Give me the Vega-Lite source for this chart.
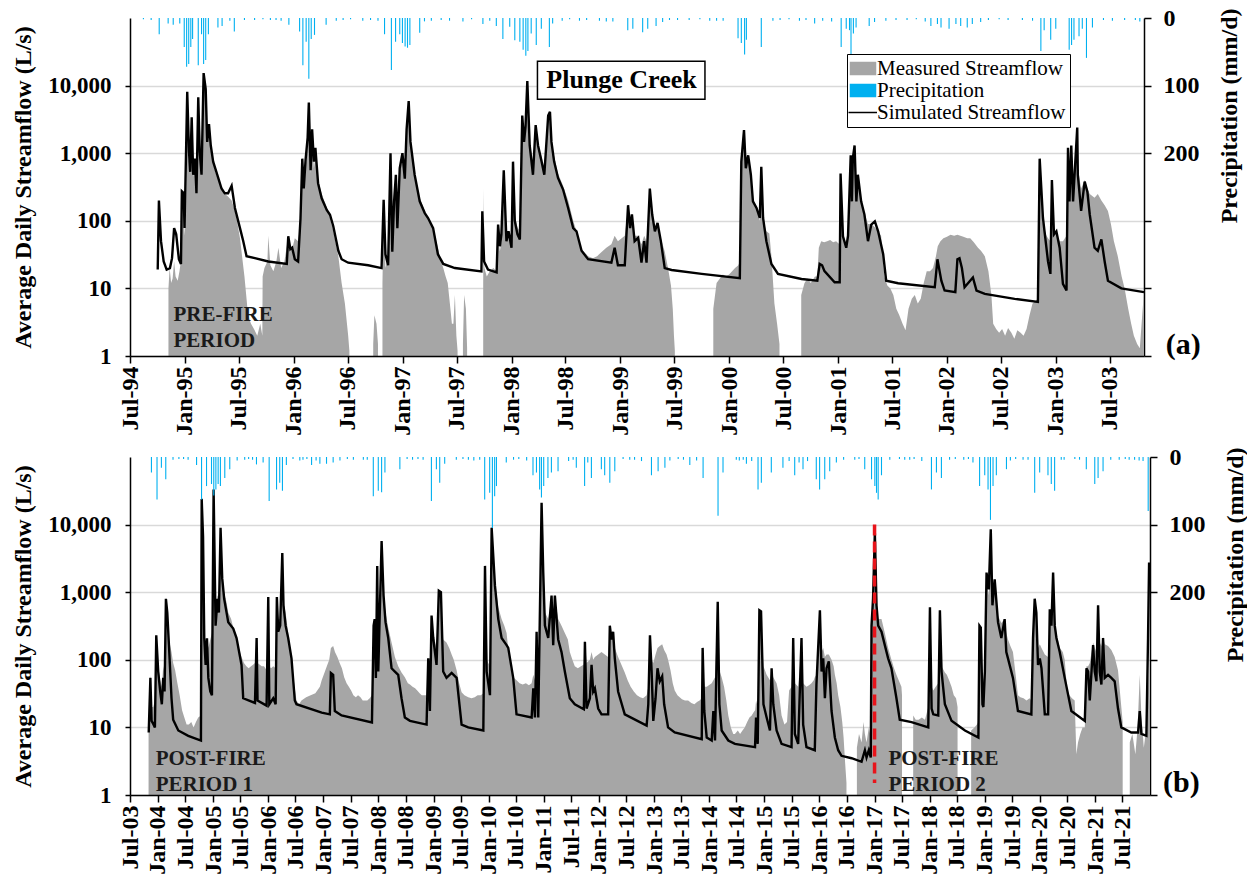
{
  "$schema": "https://vega.github.io/schema/vega-lite/v6.json",
  "background": "white",
  "padding": {"left": 11, "top": 6, "right": 0, "bottom": 0},
  "spacing": 9,
  "config": {
    "font": "Liberation Serif",
    "view": {"stroke": null},
    "axis": {
      "labelFont": "Liberation Serif", "titleFont": "Liberation Serif",
      "labelFontWeight": "bold", "titleFontWeight": "bold",
      "labelColor": "#000", "titleColor": "#000",
      "domainColor": "#000", "tickColor": "#000", "domainWidth": 1.5, "tickWidth": 1.5,
      "grid": false, "labelFlush": false, "labelOverlap": false
    }
  },
  "resolve": {"scale": {"color": "independent"}, "legend": {"color": "independent"}},
  "vconcat": [
    {
      "width": 1014, "height": 338,
      "resolve": {"scale": {"y": "independent"}},
      "layer": [
        {
          "layer": [
            {
              "data": {"values": "d,v\n1994-11-07,10\n1994-11-11,20\n1994-11-16,12\n1994-11-21,14\n1994-11-26,25\n1994-12-01,15\n1994-12-08,13\n1994-12-14,18\n1994-12-21,30\n1994-12-23,150\n1994-12-28,200\n1994-12-31,60\n1995-01-05,120\n1995-01-09,7000\n1995-01-13,900\n1995-01-19,500\n1995-01-24,2500\n1995-01-29,450\n1995-02-04,700\n1995-02-09,300\n1995-02-15,5000\n1995-02-20,900\n1995-02-26,500\n1995-03-05,12000\n1995-03-12,7000\n1995-03-17,1500\n1995-03-23,2000\n1995-03-29,1100\n1995-04-06,700\n1995-04-15,500\n1995-04-25,400\n1995-05-05,300\n1995-05-15,250\n1995-05-25,230\n1995-06-07,200\n1995-06-18,140\n1995-06-25,100\n1995-07-05,55\n1995-07-12,30\n1995-07-20,15\n1995-07-27,7\n1995-08-01,4\n1995-08-11,3\n1995-08-21,2.5\n1995-09-01,2\n1995-09-11,3\n1995-09-18,2\n1995-09-19,15\n1995-09-25,20\n1995-10-05,25\n1995-10-08,60\n1995-10-15,22\n1995-10-25,18\n1995-11-04,25\n1995-11-11,40\n1995-11-20,20\n1995-12-01,25\n1995-12-10,45\n1995-12-14,55\n1995-12-21,35\n1995-12-28,40\n1996-01-05,55\n1996-01-16,50\n1996-01-24,90\n1996-01-30,600\n1996-02-04,300\n1996-02-10,600\n1996-02-17,1300\n1996-02-21,4000\n1996-02-27,500\n1996-03-03,1800\n1996-03-09,600\n1996-03-14,900\n1996-03-23,400\n1996-04-04,250\n1996-04-21,160\n1996-05-02,110\n1996-05-13,70\n1996-05-30,30\n1996-06-10,12\n1996-06-21,6\n1996-07-02,2\n1996-07-06,1.2\n1996-07-07,\n1996-09-24,1.5\n1996-09-28,4\n1996-10-05,3\n1996-10-10,1.5\n1996-10-11,\n1996-10-25,12\n1996-10-29,150\n1996-11-04,20\n1996-11-13,30\n1996-11-21,700\n1996-11-27,40\n1996-12-03,150\n1996-12-09,400\n1996-12-14,80\n1996-12-22,500\n1996-12-31,900\n1997-01-08,400\n1997-01-14,2000\n1997-01-21,5000\n1997-01-27,1400\n1997-02-10,500\n1997-02-27,220\n1997-03-16,140\n1997-03-27,110\n1997-04-13,80\n1997-04-29,40\n1997-05-10,25\n1997-05-17,20\n1997-05-25,15\n1997-06-01,12\n1997-06-10,5\n1997-06-15,3\n1997-06-20,3\n1997-06-25,8\n1997-06-30,2\n1997-07-04,1.2\n1997-07-05,\n1997-07-22,1.5\n1997-07-26,8\n1997-08-01,5\n1997-08-05,1.3\n1997-08-06,\n1997-09-28,12\n1997-09-30,300\n1997-10-02,20\n1997-10-10,15\n1997-10-20,18\n1997-11-01,20\n1997-11-12,18\n1997-11-17,60\n1997-11-23,35\n1997-11-28,50\n1997-12-06,450\n1997-12-15,60\n1997-12-22,60\n1998-01-01,50\n1998-01-06,600\n1998-01-12,120\n1998-01-21,80\n1998-01-29,70\n1998-02-06,3000\n1998-02-12,1500\n1998-02-17,2000\n1998-02-23,9000\n1998-03-03,1500\n1998-03-14,700\n1998-03-23,2200\n1998-03-31,1300\n1998-04-12,900\n1998-04-21,600\n1998-05-04,3000\n1998-05-10,3500\n1998-05-15,1500\n1998-05-24,900\n1998-06-06,500\n1998-06-23,330\n1998-07-10,200\n1998-07-27,100\n1998-08-07,70\n1998-08-24,38\n1998-09-15,30\n1998-10-01,28\n1998-10-15,30\n1998-11-01,35\n1998-11-15,40\n1998-12-02,45\n1998-12-13,60\n1998-12-24,50\n1999-01-16,60\n1999-01-27,150\n1999-02-03,80\n1999-02-09,110\n1999-02-18,60\n1999-03-02,60\n1999-03-13,45\n1999-03-22,60\n1999-03-30,50\n1999-04-10,250\n1999-04-18,130\n1999-04-27,80\n1999-05-06,90\n1999-05-17,55\n1999-05-30,35\n1999-06-10,20\n1999-06-20,11\n1999-06-26,5\n1999-06-30,2\n1999-07-03,1.2\n1999-07-04,\n1999-11-09,5\n1999-11-20,12\n1999-12-01,14\n1999-12-11,16\n1999-12-21,15\n2000-01-01,16\n2000-01-11,18\n2000-01-21,20\n2000-02-01,22\n2000-02-06,25\n2000-02-11,600\n2000-02-20,1800\n2000-02-26,600\n2000-03-05,800\n2000-03-14,450\n2000-03-21,200\n2000-04-02,150\n2000-04-13,100\n2000-04-18,400\n2000-04-24,100\n2000-05-05,70\n2000-05-15,65\n2000-05-22,30\n2000-06-01,6\n2000-06-10,3\n2000-06-18,1.5\n2000-06-19,\n2000-08-30,8\n2000-09-10,12\n2000-09-20,14\n2000-10-01,12\n2000-10-15,15\n2000-10-23,15\n2000-10-28,40\n2000-11-05,50\n2000-11-15,48\n2000-11-25,50\n2000-12-05,52\n2000-12-15,48\n2000-12-25,50\n2001-01-05,45\n2001-01-09,400\n2001-01-17,55\n2001-01-28,40\n2001-02-03,60\n2001-02-12,800\n2001-02-16,200\n2001-02-19,700\n2001-02-25,1100\n2001-03-03,200\n2001-03-08,400\n2001-03-19,200\n2001-03-30,130\n2001-04-11,90\n2001-04-22,90\n2001-05-04,80\n2001-05-15,70\n2001-05-25,60\n2001-06-05,15\n2001-06-15,11\n2001-06-25,10\n2001-07-05,8\n2001-07-15,5\n2001-07-25,4\n2001-08-05,3\n2001-08-15,2.4\n2001-08-25,5\n2001-09-05,7\n2001-09-15,8\n2001-09-25,6\n2001-10-05,7\n2001-10-15,12\n2001-10-25,18\n2001-11-05,18\n2001-11-15,20\n2001-11-25,30\n2001-12-01,42\n2001-12-10,50\n2001-12-20,55\n2002-01-01,58\n2002-01-13,62\n2002-01-25,60\n2002-02-05,62\n2002-02-15,60\n2002-02-25,58\n2002-03-10,55\n2002-03-20,55\n2002-04-01,48\n2002-04-15,40\n2002-04-25,36\n2002-05-08,30\n2002-05-20,18\n2002-05-30,8\n2002-06-05,3\n2002-06-15,2.5\n2002-06-25,2.2\n2002-07-05,2.5\n2002-07-15,2\n2002-07-25,2.6\n2002-08-05,2.2\n2002-08-15,1.8\n2002-08-25,2.4\n2002-09-05,2.2\n2002-09-15,2\n2002-09-25,2.5\n2002-10-05,4\n2002-10-15,6\n2002-10-25,6.5\n2002-11-02,7\n2002-11-08,600\n2002-11-19,90\n2002-12-01,60\n2002-12-06,55\n2002-12-14,50\n2002-12-19,350\n2002-12-26,60\n2003-01-03,65\n2003-01-14,50\n2003-01-25,50\n2003-02-06,60\n2003-02-11,1000\n2003-02-16,300\n2003-02-22,1100\n2003-02-28,400\n2003-03-14,2000\n2003-03-16,600\n2003-03-27,300\n2003-04-08,400\n2003-04-17,300\n2003-04-25,250\n2003-05-11,220\n2003-05-22,250\n2003-06-03,200\n2003-06-14,170\n2003-06-25,140\n2003-07-05,90\n2003-07-15,50\n2003-07-28,30\n2003-08-10,15\n2003-08-20,10\n2003-09-01,5\n2003-09-11,3\n2003-09-20,2\n2003-10-01,1.5\n2003-10-10,1.3\n2003-10-18,4\n2003-10-24,9", "format": {"type": "csv", "parse": {"d": "date", "v": "number"}}},
              "mark": {"type": "area", "invalid": "break-paths-filter-domains", "clip": true},
              "encoding": {
                "x": {
                  "field": "d", "type": "temporal",
                  "scale": {"type": "utc", "domain": [{"year": 1994, "month": 7, "date": 1, "utc": true}, {"year": 2003, "month": 10, "date": 24, "utc": true}]},
                  "axis": {"title": null, "format": "%b-%y", "tickCount": {"interval": "month", "step": 6}, "labelAngle": 270, "labelAlign": "right", "labelBaseline": "middle", "labelFontSize": 24, "labelPadding": 3, "tickSize": 7, "zindex": 1}
                },
                "y": {
                  "field": "v", "type": "quantitative",
                  "scale": {"type": "log", "domain": [1, 88000]},
                  "axis": {"title": "Average Daily Streamflow (L/s)", "titleFont": "Liberation Serif", "values": [1, 10, 100, 1000, 10000], "format": ",", "grid": true, "gridColor": "#d9d9d9", "gridWidth": 1.3, "labelFontSize": 23, "labelPadding": 14, "tickSize": 5, "titleFontSize": 24, "titlePadding": 12}
                },
                "y2": {"datum": 1},
                "color": {
                  "datum": "Measured Streamflow", "type": "nominal",
                  "scale": {"domain": ["Measured Streamflow", "Precipitation", "Simulated Streamflow"], "range": ["#a6a6a6", "#00b0f0", "#000000"]},
                  "legend": {
                    "title": null, "orient": "none", "legendX": 717, "legendY": 36,
                    "strokeColor": "#000", "fillColor": "#fff", "padding": 4, "rowPadding": 0,
                    "labelFont": "Liberation Serif", "labelFontSize": 21, "labelFontWeight": "normal", "labelColor": "#000", "labelOffset": 5, "labelLimit": 400,
                    "labelExpr": "datum.label + '  '",
                    "symbolSize": 100,
                    "encode": {
                      "symbols": {
                        "update": {
                          "shape": {"signal": "datum.value === 'Simulated Streamflow' ? 'M-2.6,0H3.1' : 'M-2.2,-1.2H2.8V1.2H-2.2Z'"},
                          "fill": {"signal": "datum.value === 'Simulated Streamflow' ? 'transparent' : (datum.value === 'Precipitation' ? '#00b0f0' : '#a6a6a6')"},
                          "stroke": {"signal": "datum.value === 'Simulated Streamflow' ? '#000000' : 'transparent'"},
                          "strokeWidth": {"value": 1.5},
                          "opacity": {"value": 1}
                        }
                      }
                    }
                  }
                }
              }
            },
            {
              "data": {"values": "d,v\n1994-10-02,19\n1994-10-06,199\n1994-10-13,50\n1994-10-22,25\n1994-11-01,19\n1994-11-12,20\n1994-11-19,28\n1994-11-26,78\n1994-12-03,63\n1994-12-12,27\n1994-12-19,23\n1994-12-22,273\n1994-12-28,257\n1994-12-31,78\n1995-01-09,8100\n1995-01-15,1040\n1995-01-19,530\n1995-01-24,3400\n1995-01-29,480\n1995-02-04,830\n1995-02-09,255\n1995-02-15,6700\n1995-02-20,1040\n1995-02-26,480\n1995-03-05,15300\n1995-03-12,8900\n1995-03-17,1470\n1995-03-23,2700\n1995-03-29,1300\n1995-04-06,750\n1995-04-23,430\n1995-05-04,300\n1995-05-15,255\n1995-05-26,255\n1995-06-07,330\n1995-06-18,155\n1995-07-05,78\n1995-07-16,50\n1995-07-27,30\n1995-08-24,28\n1995-10-08,25\n1995-12-09,23\n1995-12-14,59\n1995-12-21,38\n1995-12-27,40\n1996-01-05,27\n1996-01-16,25\n1996-01-24,108\n1996-01-30,830\n1996-02-04,300\n1996-02-10,790\n1996-02-17,1700\n1996-02-21,5600\n1996-02-27,560\n1996-03-03,2250\n1996-03-09,750\n1996-03-14,1200\n1996-03-23,360\n1996-04-04,215\n1996-04-21,145\n1996-05-02,123\n1996-05-13,83\n1996-05-30,36\n1996-06-10,27\n1996-07-02,24\n1996-09-07,22\n1996-10-22,20\n1996-10-29,205\n1996-11-04,32\n1996-11-13,22\n1996-11-21,1000\n1996-11-27,35\n1996-12-03,194\n1996-12-09,480\n1996-12-14,78\n1996-12-22,600\n1996-12-31,1000\n1997-01-08,420\n1997-01-14,2250\n1997-01-21,5900\n1997-01-27,1470\n1997-02-10,480\n1997-02-27,194\n1997-03-16,130\n1997-03-27,110\n1997-04-13,78\n1997-04-29,32\n1997-05-17,23\n1997-06-25,20\n1997-09-22,17.8\n1997-09-25,138\n1997-10-01,25\n1997-10-14,19\n1997-11-12,17.3\n1997-11-17,88\n1997-11-23,42\n1997-11-28,63\n1997-12-06,560\n1997-12-15,50\n1997-12-22,70\n1998-01-01,40\n1998-01-06,750\n1998-01-12,100\n1998-01-21,63\n1998-01-29,53\n1998-02-06,3600\n1998-02-12,1470\n1998-02-17,2500\n1998-02-23,11700\n1998-03-03,1300\n1998-03-14,480\n1998-03-23,2600\n1998-03-31,1300\n1998-04-12,750\n1998-04-21,480\n1998-05-04,3600\n1998-05-10,4100\n1998-05-15,1470\n1998-05-24,750\n1998-06-06,430\n1998-06-23,290\n1998-07-10,155\n1998-07-27,78\n1998-08-07,70\n1998-08-24,36\n1998-09-15,27\n1998-12-02,24\n1998-12-13,40\n1998-12-24,22\n1999-01-16,22\n1999-01-27,170\n1999-02-03,78\n1999-02-09,124\n1999-02-18,50\n1999-03-02,56\n1999-03-13,24\n1999-03-22,50\n1999-03-30,24\n1999-04-10,300\n1999-04-18,124\n1999-04-27,70\n1999-05-06,93\n1999-05-17,50\n1999-05-30,20\n1999-06-22,18.7\n1999-10-01,16.4\n2000-02-06,14.2\n2000-02-11,750\n2000-02-20,2200\n2000-02-26,600\n2000-03-05,930\n2000-03-14,480\n2000-03-21,194\n2000-04-02,155\n2000-04-13,110\n2000-04-18,630\n2000-04-24,110\n2000-05-05,50\n2000-05-22,23\n2000-06-13,16.4\n2000-08-31,13.8\n2000-10-23,13\n2000-10-31,23\n2000-11-08,22\n2000-11-16,18\n2000-12-20,12.3\n2001-01-06,12.3\n2001-01-09,500\n2001-01-17,59\n2001-01-28,40\n2001-02-03,60\n2001-02-12,930\n2001-02-16,194\n2001-02-19,830\n2001-02-25,1300\n2001-03-03,194\n2001-03-08,480\n2001-03-19,194\n2001-03-30,124\n2001-04-11,50\n2001-04-22,88\n2001-05-04,98\n2001-05-15,70\n2001-06-01,32\n2001-06-11,13\n2001-07-21,11.9\n2001-11-21,10.4\n2001-11-30,27\n2001-12-13,13\n2001-12-24,9.3\n2002-01-29,8.8\n2002-02-05,27\n2002-02-12,28\n2002-02-20,20\n2002-03-01,10.4\n2002-03-29,14.5\n2002-04-10,9.3\n2002-05-08,8.3\n2002-08-16,7\n2002-11-02,6.3\n2002-11-08,830\n2002-11-19,110\n2002-12-06,25\n2002-12-14,16.4\n2002-12-19,400\n2002-12-26,63\n2003-01-03,70\n2003-01-14,40\n2003-01-25,11.7\n2003-02-06,9.3\n2003-02-11,1200\n2003-02-16,194\n2003-02-22,1300\n2003-02-28,194\n2003-03-14,2400\n2003-03-16,480\n2003-03-27,140\n2003-04-08,380\n2003-04-17,270\n2003-04-25,124\n2003-05-11,40\n2003-05-22,36\n2003-06-03,53\n2003-06-14,25\n2003-06-25,13\n2003-08-09,10\n2003-10-24,8.8", "format": {"type": "csv", "parse": {"d": "date", "v": "number"}}},
              "mark": {"type": "line", "strokeWidth": 2.4, "clip": true},
              "encoding": {
                "x": {"field": "d", "type": "temporal"},
                "y": {"field": "v", "type": "quantitative"},
                "color": {"datum": "Simulated Streamflow", "type": "nominal"}
              }
            },
            {
              "data": {"values": [{}]},
              "mark": {"type": "rect", "fill": "#ffffff", "stroke": "#000000", "strokeWidth": 1.5},
              "encoding": {
                "x": {"datum": {"year": 1998, "month": 3, "date": 29, "utc": true}, "type": "temporal"},
                "x2": {"datum": {"year": 1999, "month": 10, "date": 12, "utc": true}},
                "y": {"datum": 22850, "type": "quantitative"},
                "y2": {"datum": 6260}
              }
            },
            {
              "data": {"values": [{}]},
              "mark": {"type": "text", "text": "Plunge Creek", "font": "Liberation Serif", "fontSize": 26, "fontWeight": "bold", "color": "#000", "align": "center", "baseline": "middle"},
              "encoding": {
                "x": {"datum": {"year": 1999, "month": 1, "date": 5, "utc": true}, "type": "temporal"},
                "y": {"datum": 11960, "type": "quantitative"}
              }
            },
            {
              "data": {"values": [{}]},
              "mark": {"type": "text", "text": ["PRE-FIRE", "PERIOD"], "font": "Liberation Serif", "fontSize": 21, "fontWeight": "bold", "color": "#1a1a1a", "align": "left", "baseline": "middle", "lineHeight": 26},
              "encoding": {
                "x": {"datum": {"year": 1994, "month": 11, "date": 24, "utc": true}, "type": "temporal"},
                "y": {"datum": 3.98, "type": "quantitative"}
              }
            },
            {
              "data": {"values": [{}]},
              "mark": {"type": "text", "text": "(a)", "font": "Liberation Serif", "fontSize": 30, "fontWeight": "bold", "color": "#000", "align": "center", "baseline": "middle"},
              "encoding": {
                "x": {"datum": {"year": 2004, "month": 3, "date": 4, "utc": true}, "type": "temporal"},
                "y": {"datum": 1.45, "type": "quantitative"}
              }
            }
          ]
        },
        {
          "data": {"values": "d,p\n1994-10-07,24\n1994-11-06,8\n1994-11-23,10\n1994-12-15,8\n1994-12-30,43\n1995-01-07,72\n1995-01-14,68\n1995-01-21,43\n1995-01-27,31\n1995-02-15,70\n1995-02-26,24\n1995-03-05,68\n1995-03-12,62\n1995-03-21,24\n1995-04-22,14\n1995-05-06,12\n1995-06-16,20\n1995-07-20,3\n1995-08-23,3\n1995-11-03,3\n1995-12-16,10\n1996-01-21,20\n1996-02-01,70\n1996-02-12,35\n1996-02-21,90\n1996-02-29,31\n1996-03-11,25\n1996-04-19,10\n1996-05-23,4\n1996-08-20,4\n1996-11-01,24\n1996-11-24,77\n1996-12-08,35\n1996-12-22,24\n1996-12-31,37\n1997-01-09,42\n1997-01-17,44\n1997-01-25,40\n1997-02-27,22\n1997-04-07,4\n1997-06-07,4\n1997-07-22,5\n1997-09-27,9\n1997-11-11,12\n1997-12-03,31\n1997-12-26,13\n1998-01-12,33\n1998-01-29,35\n1998-02-09,47\n1998-02-18,56\n1998-02-25,49\n1998-03-08,23\n1998-03-25,40\n1998-04-11,16\n1998-05-08,43\n1998-05-19,8\n1998-08-17,4\n1998-10-23,4\n1998-12-07,5\n1999-01-26,18\n1999-02-12,16\n1999-03-17,21\n1999-04-03,16\n1999-05-01,12\n1999-05-23,6\n1999-07-12,3\n1999-10-28,4\n1999-12-12,4\n2000-01-31,30\n2000-02-11,37\n2000-02-22,54\n2000-02-28,32\n2000-04-18,43\n2000-05-27,4\n2000-08-24,4\n2000-10-14,8\n2000-11-10,4\n2001-01-11,43\n2001-01-28,16\n2001-02-08,18\n2001-02-13,54\n2001-02-21,23\n2001-03-02,14\n2001-04-15,12\n2001-05-03,6\n2001-07-14,3\n2001-11-08,12\n2001-11-30,9\n2001-12-12,14\n2002-01-08,16\n2002-01-31,9\n2002-02-16,12\n2002-03-10,14\n2002-03-27,9\n2002-04-24,6\n2002-09-11,3\n2002-11-12,49\n2002-11-23,18\n2002-12-15,32\n2003-01-01,16\n2003-02-15,47\n2003-02-23,40\n2003-03-03,32\n2003-03-20,27\n2003-03-31,16\n2003-04-14,59\n2003-05-04,14\n2003-06-10,3\n2003-08-20,3\n2003-09-25,3\n1994-08-15,2\n1994-09-10,3\n1995-06-01,4\n1995-09-20,2\n1995-10-15,3\n1995-11-20,4\n1996-06-15,3\n1996-07-10,2\n1996-09-15,3\n1996-10-10,4\n1997-03-15,5\n1997-05-10,3\n1997-08-20,2\n1997-10-20,4\n1998-06-20,4\n1998-07-15,2\n1998-09-10,3\n1998-11-15,5\n1999-06-15,3\n1999-08-20,3\n1999-09-25,2\n1999-11-20,4\n2000-06-20,3\n2000-07-20,2\n2000-09-15,3\n2000-12-10,5\n2001-06-10,4\n2001-08-20,3\n2001-09-20,2\n2001-10-20,5\n2002-05-20,3\n2002-06-25,2\n2002-07-25,3\n2002-10-15,4\n2003-07-10,4\n2003-10-10,5", "format": {"type": "csv", "parse": {"d": "date", "p": "number"}}},
          "mark": {"type": "rule", "strokeWidth": 1.1},
          "encoding": {
            "x": {"field": "d", "type": "temporal"},
            "y": {
              "field": "p", "type": "quantitative",
              "scale": {"domain": [0, 500], "reverse": true},
              "axis": {"orient": "right", "title": "Precipitation (mm/d)", "titleFont": "Liberation Serif", "values": [0, 100, 200, 300, 400, 500], "labelExpr": "datum.value <= 200 ? datum.label : ''", "labelFontSize": 24, "labelPadding": 12, "tickSize": 7, "titleFontSize": 24, "titleAngle": 270, "titleAlign": "right", "titleBaseline": "middle", "titleX": 85, "titleY": -10}
            },
            "y2": {"datum": 0},
            "color": {"datum": "Precipitation", "type": "nominal"}
          }
        }
      ]
    },
    {
      "width": 1020, "height": 338,
      "resolve": {"scale": {"y": "independent"}},
      "layer": [
        {
          "layer": [
            {
              "data": {"values": "d,v\n2003-11-01,9\n2003-11-13,60\n2003-11-21,20\n2003-12-02,20\n2003-12-13,25\n2003-12-22,200\n2004-01-04,80\n2004-01-17,50\n2004-01-28,40\n2004-02-06,80\n2004-02-15,60\n2004-02-24,700\n2004-03-04,500\n2004-03-15,200\n2004-04-01,130\n2004-04-12,90\n2004-04-25,70\n2004-05-10,45\n2004-05-25,30\n2004-06-10,18\n2004-06-25,14\n2004-07-10,11\n2004-07-25,11\n2004-08-10,12\n2004-08-25,10\n2004-09-10,12\n2004-09-25,14\n2004-10-13,15\n2004-10-18,20000\n2004-10-27,5000\n2004-11-04,300\n2004-11-13,150\n2004-11-22,200\n2004-12-01,150\n2004-12-14,200\n2004-12-25,250\n2005-01-05,25000\n2005-01-18,600\n2005-01-31,900\n2005-02-09,800\n2005-02-20,8000\n2005-03-03,1800\n2005-03-16,1000\n2005-04-01,700\n2005-04-12,500\n2005-05-01,400\n2005-05-15,300\n2005-06-06,220\n2005-06-20,150\n2005-07-09,110\n2005-07-25,90\n2005-08-10,80\n2005-08-25,75\n2005-09-10,80\n2005-09-25,85\n2005-10-06,90\n2005-10-17,200\n2005-10-23,90\n2005-11-05,85\n2005-11-20,80\n2005-12-05,80\n2005-12-22,70\n2006-01-02,800\n2006-01-09,80\n2006-01-20,75\n2006-02-04,80\n2006-02-20,75\n2006-02-28,800\n2006-03-09,400\n2006-03-22,400\n2006-04-05,3000\n2006-04-13,700\n2006-04-27,500\n2006-05-14,250\n2006-06-05,110\n2006-06-20,50\n2006-07-08,25\n2006-07-25,22\n2006-08-10,25\n2006-09-10,28\n2006-10-10,30\n2006-11-10,32\n2006-12-10,40\n2006-12-22,50\n2007-01-10,65\n2007-01-25,80\n2007-02-10,100\n2007-02-21,150\n2007-03-08,160\n2007-03-20,130\n2007-04-05,110\n2007-04-20,90\n2007-05-05,75\n2007-05-20,55\n2007-06-05,45\n2007-06-20,40\n2007-07-05,35\n2007-07-20,30\n2007-08-05,28\n2007-08-20,30\n2007-09-05,28\n2007-09-20,25\n2007-10-05,25\n2007-10-20,25\n2007-11-05,27\n2007-11-20,30\n2007-12-01,250\n2007-12-08,350\n2007-12-16,80\n2007-12-25,2000\n2008-01-01,100\n2008-01-23,4500\n2008-02-05,1000\n2008-02-18,500\n2008-03-07,300\n2008-03-29,180\n2008-04-20,110\n2008-05-12,80\n2008-06-03,65\n2008-06-25,55\n2008-07-15,45\n2008-07-29,43\n2008-08-15,40\n2008-09-01,38\n2008-09-15,35\n2008-10-01,32\n2008-10-15,30\n2008-11-01,30\n2008-11-16,30\n2008-11-27,90\n2008-12-08,40\n2008-12-19,400\n2008-12-30,250\n2009-01-21,150\n2009-02-05,900\n2009-02-19,800\n2009-03-06,200\n2009-03-28,180\n2009-04-15,150\n2009-05-01,120\n2009-05-15,100\n2009-06-03,70\n2009-06-20,45\n2009-07-06,33\n2009-07-25,30\n2009-08-19,28\n2009-09-10,27\n2009-10-01,28\n2009-10-20,30\n2009-11-10,30\n2009-11-27,32\n2009-12-08,2000\n2009-12-19,100\n2010-01-10,80\n2010-01-21,8000\n2010-02-01,3000\n2010-02-12,1500\n2010-03-06,600\n2010-03-28,400\n2010-04-15,320\n2010-04-30,250\n2010-05-15,120\n2010-05-30,70\n2010-06-13,55\n2010-07-05,50\n2010-07-25,45\n2010-08-15,43\n2010-09-05,45\n2010-09-25,42\n2010-10-13,45\n2010-10-24,60\n2010-11-04,50\n2010-11-15,250\n2010-11-26,60\n2010-12-18,15000\n2010-12-29,2000\n2011-01-09,500\n2011-01-31,400\n2011-02-22,900\n2011-03-05,350\n2011-03-16,800\n2011-04-07,400\n2011-04-29,320\n2011-05-21,250\n2011-06-10,200\n2011-06-23,130\n2011-07-10,100\n2011-07-26,80\n2011-08-15,75\n2011-09-05,80\n2011-09-24,85\n2011-10-01,200\n2011-10-12,90\n2011-11-03,100\n2011-11-14,130\n2011-11-25,100\n2011-12-06,110\n2011-12-28,120\n2012-01-19,130\n2012-02-10,120\n2012-03-03,110\n2012-03-14,300\n2012-03-25,200\n2012-04-05,250\n2012-04-16,150\n2012-05-08,110\n2012-05-25,90\n2012-06-21,65\n2012-07-10,50\n2012-07-30,40\n2012-08-20,34\n2012-09-10,30\n2012-10-01,28\n2012-10-20,27\n2012-11-13,30\n2012-11-24,40\n2012-12-05,200\n2012-12-16,100\n2012-12-27,90\n2013-01-11,120\n2013-01-24,150\n2013-02-08,160\n2013-02-24,170\n2013-03-09,140\n2013-03-25,120\n2013-04-04,100\n2013-04-20,70\n2013-05-05,45\n2013-05-18,35\n2013-06-05,30\n2013-06-20,28\n2013-07-05,26\n2013-07-25,25\n2013-08-15,25\n2013-09-05,23\n2013-09-25,22\n2013-10-15,24\n2013-10-30,25\n2013-11-13,27\n2013-11-19,140\n2013-11-30,40\n2013-12-16,40\n2014-01-18,45\n2014-01-29,50\n2014-02-09,55\n2014-02-27,600\n2014-03-10,70\n2014-03-25,55\n2014-04-10,40\n2014-04-25,25\n2014-05-08,15\n2014-05-25,10\n2014-06-10,8\n2014-06-21,8\n2014-07-10,9\n2014-07-25,8\n2014-08-10,9\n2014-08-25,10\n2014-09-10,12\n2014-09-25,14\n2014-10-10,15\n2014-10-25,17\n2014-11-02,18\n2014-11-08,25\n2014-11-19,20\n2014-11-30,500\n2014-12-11,450\n2014-12-27,80\n2015-01-17,60\n2015-02-08,50\n2015-02-19,70\n2015-03-02,55\n2015-03-24,45\n2015-04-10,30\n2015-04-26,15\n2015-05-15,11\n2015-06-01,12\n2015-06-15,35\n2015-07-01,40\n2015-07-12,150\n2015-07-23,45\n2015-08-14,40\n2015-09-05,150\n2015-09-16,45\n2015-10-08,40\n2015-10-25,42\n2015-11-10,45\n2015-11-25,50\n2015-12-02,55\n2015-12-13,60\n2016-01-05,500\n2016-01-16,130\n2016-01-27,150\n2016-02-07,110\n2016-02-18,120\n2016-03-04,120\n2016-03-22,100\n2016-04-05,80\n2016-04-13,60\n2016-04-25,45\n2016-05-05,30\n2016-05-20,20\n2016-06-01,12\n2016-06-10,7\n2016-06-20,3\n2016-06-29,1.5\n2016-06-30,\n2016-09-06,5\n2016-09-20,8\n2016-10-07,6\n2016-10-20,12\n2016-10-29,8\n2016-11-09,6\n2016-11-24,10\n2016-12-07,7\n2016-12-12,250\n2016-12-22,700\n2017-01-03,6000\n2017-01-14,700\n2017-01-25,400\n2017-02-16,400\n2017-03-10,250\n2017-04-01,150\n2017-04-23,100\n2017-05-10,75\n2017-05-26,60\n2017-06-10,50\n2017-06-28,40\n2017-07-02,30\n2017-07-03,\n2017-09-14,15\n2017-10-01,13\n2017-10-20,13\n2017-11-10,14\n2017-12-01,13\n2017-12-23,20\n2018-01-03,500\n2018-01-14,40\n2018-01-25,35\n2018-02-10,40\n2018-02-27,45\n2018-03-10,450\n2018-03-21,80\n2018-04-12,65\n2018-04-25,60\n2018-05-10,50\n2018-05-26,40\n2018-06-10,30\n2018-06-25,27\n2018-07-05,20\n2018-07-06,\n2018-10-03,9\n2018-10-25,10\n2018-11-10,11\n2018-11-20,12\n2018-11-27,300\n2018-12-06,280\n2018-12-17,60\n2018-12-23,50\n2019-01-02,100\n2019-01-13,1500\n2019-01-28,900\n2019-02-10,6000\n2019-02-21,900\n2019-03-08,1200\n2019-03-30,450\n2019-04-21,350\n2019-05-13,400\n2019-05-24,250\n2019-06-04,200\n2019-06-20,160\n2019-07-07,130\n2019-07-25,60\n2019-08-09,30\n2019-08-25,28\n2019-09-15,27\n2019-10-05,25\n2019-10-25,27\n2019-11-06,25\n2019-11-17,200\n2019-11-28,700\n2019-12-09,450\n2019-12-20,150\n2020-01-01,170\n2020-01-12,150\n2020-02-03,120\n2020-02-25,110\n2020-03-07,500\n2020-03-18,350\n2020-03-29,1500\n2020-04-09,400\n2020-04-20,250\n2020-05-12,150\n2020-06-01,130\n2020-06-14,100\n2020-06-30,35\n2020-07-15,30\n2020-08-01,27\n2020-08-19,25\n2020-08-30,4\n2020-09-10,6\n2020-09-25,8\n2020-10-10,10\n2020-10-25,10\n2020-11-05,80\n2020-11-16,80\n2020-11-27,90\n2020-12-19,180\n2020-12-30,150\n2021-01-10,130\n2021-01-21,550\n2021-02-01,180\n2021-02-12,160\n2021-02-23,220\n2021-03-06,170\n2021-03-28,160\n2021-04-19,140\n2021-05-11,110\n2021-06-02,70\n2021-06-20,25\n2021-07-03,12\n2021-07-04,\n2021-08-19,6\n2021-09-05,8\n2021-09-25,4\n2021-10-10,10\n2021-10-24,60\n2021-11-04,15\n2021-11-20,5\n2021-12-07,10\n2021-12-18,70\n2021-12-25,30\n2021-12-31,20", "format": {"type": "csv", "parse": {"d": "date", "v": "number"}}},
              "mark": {"type": "area", "color": "#a6a6a6", "invalid": "break-paths-filter-domains", "clip": true},
              "encoding": {
                "x": {
                  "field": "d", "type": "temporal",
                  "scale": {"type": "utc", "domain": [{"year": 2003, "month": 7, "date": 1, "utc": true}, {"year": 2021, "month": 12, "date": 31, "utc": true}]},
                  "axis": {"title": null, "format": "%b-%y", "tickCount": {"interval": "month", "step": 6}, "labelAngle": 270, "labelAlign": "right", "labelBaseline": "middle", "labelFontSize": 24, "labelPadding": 3, "tickSize": 7, "zindex": 1}
                },
                "y": {
                  "field": "v", "type": "quantitative",
                  "scale": {"type": "log", "domain": [1, 88000]},
                  "axis": {"title": "Average Daily Streamflow (L/s)", "titleFont": "Liberation Serif", "values": [1, 10, 100, 1000, 10000], "format": ",", "grid": true, "gridColor": "#d9d9d9", "gridWidth": 1.3, "labelFontSize": 23, "labelPadding": 14, "tickSize": 5, "titleFontSize": 24, "titlePadding": 12}
                },
                "y2": {"datum": 1}
              }
            },
            {
              "data": {"values": "d,v\n2003-11-02,8.4\n2003-11-13,54\n2003-11-21,12.5\n2003-12-02,11.2\n2003-12-13,10\n2003-12-22,230\n2004-01-04,67\n2004-01-17,34\n2004-01-28,22\n2004-02-06,54\n2004-02-15,34\n2004-02-24,800\n2004-03-04,500\n2004-03-15,165\n2004-04-01,27\n2004-04-12,13\n2004-05-16,9\n2004-07-21,7.5\n2004-10-13,6.4\n2004-10-18,24000\n2004-10-27,6600\n2004-11-04,208\n2004-11-13,84\n2004-11-22,208\n2004-12-01,54\n2004-12-14,34\n2004-12-25,30\n2005-01-05,33000\n2005-01-18,320\n2005-01-31,800\n2005-02-09,500\n2005-02-20,9000\n2005-03-03,1600\n2005-03-16,800\n2005-04-12,360\n2005-05-15,290\n2005-06-06,210\n2005-07-09,84\n2005-07-20,27\n2005-10-06,23\n2005-10-17,210\n2005-10-23,25\n2005-12-22,21\n2006-01-02,850\n2006-01-09,22\n2006-02-04,27\n2006-02-20,22\n2006-02-28,850\n2006-03-09,260\n2006-03-22,320\n2006-04-05,3800\n2006-04-13,640\n2006-04-27,320\n2006-05-14,210\n2006-06-05,105\n2006-06-27,25\n2006-07-08,22\n2006-12-22,16.5\n2007-02-14,15.6\n2007-02-21,64\n2007-03-08,60\n2007-03-19,17.5\n2007-05-03,15\n2007-11-20,11.8\n2007-12-01,320\n2007-12-08,400\n2007-12-16,54\n2007-12-25,2450\n2008-01-01,67\n2008-01-23,5700\n2008-02-05,890\n2008-02-18,360\n2008-03-07,210\n2008-03-29,75\n2008-04-20,67\n2008-05-12,60\n2008-06-03,27\n2008-06-25,14\n2008-07-29,12.5\n2008-11-16,11\n2008-11-27,105\n2008-12-08,17.5\n2008-12-19,450\n2008-12-30,210\n2009-01-21,84\n2009-02-05,1050\n2009-02-19,1000\n2009-03-06,67\n2009-03-28,54\n2009-05-01,64\n2009-06-03,54\n2009-07-06,11\n2009-08-19,10\n2009-11-27,9\n2009-12-08,2450\n2009-12-19,67\n2010-01-10,30\n2010-01-21,9000\n2010-02-01,3400\n2010-02-12,1250\n2010-03-06,400\n2010-03-28,210\n2010-04-30,165\n2010-05-11,150\n2010-06-13,54\n2010-07-05,15.6\n2010-10-13,14\n2010-10-24,38\n2010-11-04,14\n2010-11-15,260\n2010-11-26,14\n2010-12-18,21000\n2010-12-29,1950\n2011-01-09,320\n2011-01-31,210\n2011-02-22,890\n2011-03-05,165\n2011-03-16,890\n2011-04-07,200\n2011-04-29,130\n2011-05-21,67\n2011-06-23,27\n2011-07-26,22\n2011-09-24,18.5\n2011-10-01,185\n2011-10-12,19\n2011-11-03,27\n2011-11-14,84\n2011-11-25,34\n2011-12-06,38\n2011-12-28,19\n2012-01-19,15.6\n2012-03-03,15.6\n2012-03-14,320\n2012-03-25,200\n2012-04-05,260\n2012-04-16,105\n2012-05-08,34\n2012-06-21,15.6\n2012-11-13,10.6\n2012-11-24,22\n2012-12-05,230\n2012-12-16,67\n2012-12-27,12.5\n2013-01-11,27\n2013-01-24,75\n2013-02-08,48\n2013-02-24,57\n2013-03-09,22\n2013-04-04,10\n2013-05-18,8.4\n2013-11-13,6.7\n2013-11-19,150\n2013-11-30,17.5\n2013-12-16,7.1\n2014-01-18,6.4\n2014-01-29,17.5\n2014-02-09,6.4\n2014-02-27,720\n2014-03-10,22\n2014-03-25,9\n2014-05-08,6.4\n2014-06-21,5.7\n2014-11-01,5.1\n2014-11-08,14\n2014-11-19,5.7\n2014-11-30,540\n2014-12-11,520\n2014-12-27,22\n2015-01-17,14\n2015-02-08,9\n2015-02-19,75\n2015-03-02,22\n2015-03-24,9\n2015-04-26,5.7\n2015-07-01,5.1\n2015-07-12,210\n2015-07-23,8\n2015-08-14,5.7\n2015-09-05,210\n2015-09-16,11\n2015-10-08,5.1\n2015-12-02,4.6\n2015-12-13,43\n2016-01-05,540\n2016-01-16,67\n2016-01-27,105\n2016-02-07,27\n2016-02-18,75\n2016-03-04,95\n2016-03-22,17.5\n2016-04-13,7.1\n2016-05-05,4.6\n2016-05-27,3.8\n2016-08-02,3.5\n2016-10-07,3.1\n2016-10-29,4.6\n2016-11-09,3.6\n2016-11-24,4.6\n2016-12-07,3.6\n2016-12-12,320\n2016-12-22,800\n2017-01-03,7600\n2017-01-14,640\n2017-01-25,320\n2017-02-16,260\n2017-03-10,165\n2017-04-01,105\n2017-04-23,75\n2017-05-26,27\n2017-06-17,13\n2017-09-03,12\n2017-12-23,10\n2018-01-03,600\n2018-01-14,19\n2018-01-25,15.6\n2018-02-27,15\n2018-03-10,540\n2018-03-21,67\n2018-04-12,22\n2018-05-26,12.5\n2018-08-23,9\n2018-11-20,7.1\n2018-11-27,320\n2018-12-06,300\n2018-12-17,22\n2018-12-23,20\n2019-01-02,67\n2019-01-13,1950\n2019-01-28,1100\n2019-02-10,8500\n2019-02-21,640\n2019-03-08,1550\n2019-03-30,360\n2019-04-21,210\n2019-05-13,400\n2019-05-24,130\n2019-06-04,105\n2019-07-07,54\n2019-08-09,17.5\n2019-11-06,15.6\n2019-11-17,210\n2019-11-28,800\n2019-12-09,500\n2019-12-20,84\n2020-01-01,105\n2020-01-12,75\n2020-02-03,15.6\n2020-02-25,15.6\n2020-03-07,560\n2020-03-18,320\n2020-03-29,1950\n2020-04-09,320\n2020-04-20,210\n2020-05-12,130\n2020-06-14,54\n2020-07-28,17.5\n2020-10-25,12.5\n2020-11-05,75\n2020-11-16,67\n2020-11-27,25\n2020-12-19,165\n2020-12-30,67\n2021-01-10,48\n2021-01-21,640\n2021-02-01,67\n2021-02-12,43\n2021-02-23,210\n2021-03-06,54\n2021-03-28,60\n2021-04-19,54\n2021-05-11,48\n2021-06-02,19\n2021-06-24,10\n2021-08-29,8.4\n2021-10-13,8.4\n2021-10-24,17.5\n2021-11-04,8\n2021-12-07,7.5\n2021-12-18,210\n2021-12-25,2750", "format": {"type": "csv", "parse": {"d": "date", "v": "number"}}},
              "mark": {"type": "line", "color": "#000000", "strokeWidth": 2.4, "clip": true},
              "encoding": {
                "x": {"field": "d", "type": "temporal"},
                "y": {"field": "v", "type": "quantitative"}
              }
            },
            {
              "data": {"values": [{}]},
              "mark": {"type": "rule", "color": "#e8141b", "strokeWidth": 3.5, "strokeDash": [11, 6]},
              "encoding": {
                "x": {"datum": {"year": 2017, "month": 1, "date": 1, "utc": true}, "type": "temporal"},
                "y": {"datum": 10000, "type": "quantitative"},
                "y2": {"datum": 1.5}
              }
            },
            {
              "data": {"values": [{}]},
              "mark": {"type": "text", "text": ["POST-FIRE", "PERIOD 1"], "font": "Liberation Serif", "fontSize": 21, "fontWeight": "bold", "color": "#1a1a1a", "align": "left", "baseline": "middle", "lineHeight": 26},
              "encoding": {
                "x": {"datum": {"year": 2003, "month": 12, "date": 18, "utc": true}, "type": "temporal"},
                "y": {"datum": 3.44, "type": "quantitative"}
              }
            },
            {
              "data": {"values": [{}]},
              "mark": {"type": "text", "text": ["POST-FIRE", "PERIOD 2"], "font": "Liberation Serif", "fontSize": 21, "fontWeight": "bold", "color": "#1a1a1a", "align": "left", "baseline": "middle", "lineHeight": 26},
              "encoding": {
                "x": {"datum": {"year": 2017, "month": 4, "date": 3, "utc": true}, "type": "temporal"},
                "y": {"datum": 3.44, "type": "quantitative"}
              }
            },
            {
              "data": {"values": [{}]},
              "mark": {"type": "text", "text": "(b)", "font": "Liberation Serif", "fontSize": 30, "fontWeight": "bold", "color": "#000", "align": "center", "baseline": "middle"},
              "encoding": {
                "x": {"datum": {"year": 2022, "month": 7, "date": 27, "utc": true}, "type": "temporal"},
                "y": {"datum": 1.48, "type": "quantitative"}
              }
            }
          ]
        },
        {
          "data": {"values": "d,p\n2003-11-20,23\n2003-12-27,63\n2004-01-25,16\n2004-02-23,33\n2004-04-11,4\n2004-06-20,3\n2004-09-14,12\n2004-10-17,63\n2004-11-19,43\n2004-12-22,40\n2005-01-06,57\n2005-01-20,48\n2005-02-04,40\n2005-02-19,43\n2005-03-20,31\n2005-04-22,18\n2005-07-30,4\n2005-10-16,11\n2005-11-29,8\n2006-01-08,65\n2006-02-26,48\n2006-03-19,38\n2006-04-06,50\n2006-05-02,12\n2006-07-30,5\n2006-10-16,12\n2006-12-10,10\n2007-01-23,10\n2007-03-08,8\n2007-04-22,5\n2007-09-24,4\n2007-11-29,58\n2008-01-01,50\n2008-01-23,52\n2008-02-14,23\n2008-05-23,18\n2008-10-24,4\n2008-12-18,65\n2009-01-20,18\n2009-02-11,38\n2009-03-16,10\n2009-06-01,4\n2009-11-03,4\n2009-12-06,63\n2010-01-08,53\n2010-01-26,105\n2010-02-10,58\n2010-02-22,43\n2010-04-28,8\n2010-10-22,27\n2010-11-14,23\n2010-12-05,48\n2010-12-17,60\n2011-01-01,43\n2011-01-29,31\n2011-02-21,23\n2011-04-06,21\n2011-08-05,16\n2011-09-29,43\n2011-11-13,31\n2012-01-18,18\n2012-02-09,27\n2012-03-14,38\n2012-04-16,21\n2012-07-24,4\n2012-12-15,27\n2013-01-28,21\n2013-03-14,16\n2013-04-16,5\n2013-08-26,12\n2013-11-22,31\n2014-03-01,87\n2014-04-03,23\n2014-06-30,4\n2014-09-05,10\n2014-11-21,48\n2014-12-13,38\n2015-02-17,23\n2015-05-05,16\n2015-07-22,27\n2015-09-15,18\n2015-12-12,33\n2016-01-03,48\n2016-02-06,33\n2016-03-10,21\n2016-04-23,8\n2016-08-23,4\n2016-10-28,18\n2016-12-12,33\n2017-01-03,43\n2017-01-14,53\n2017-01-25,63\n2017-02-16,27\n2017-04-12,4\n2017-08-22,4\n2018-01-13,48\n2018-02-15,23\n2018-03-20,31\n2018-05-13,4\n2018-10-15,8\n2018-11-28,43\n2019-01-01,27\n2019-01-23,48\n2019-02-08,93\n2019-02-25,43\n2019-03-19,27\n2019-05-25,18\n2019-09-12,4\n2019-11-28,53\n2019-12-31,23\n2020-02-24,27\n2020-03-17,40\n2020-04-08,50\n2020-05-22,4\n2020-11-04,18\n2020-12-30,40\n2021-01-21,31\n2021-02-23,21\n2021-04-15,4\n2021-06-10,4\n2021-08-15,4\n2021-10-20,5\n2021-12-19,80\n2004-05-20,3\n2004-07-20,4\n2005-06-10,5\n2005-08-25,3\n2005-09-20,4\n2006-06-15,3\n2006-08-20,4\n2006-09-15,3\n2006-11-15,5\n2007-06-10,3\n2007-07-20,4\n2007-10-20,4\n2008-07-10,3\n2008-08-15,4\n2008-09-20,3\n2009-07-15,3\n2009-08-20,4\n2009-09-25,5\n2010-06-15,4\n2010-07-20,3\n2010-09-10,5\n2011-06-15,6\n2011-07-15,4\n2011-10-20,8\n2012-06-10,3\n2012-08-25,4\n2012-10-10,6\n2013-06-10,3\n2013-07-15,4\n2013-10-10,5\n2014-07-20,5\n2014-08-15,4\n2014-10-10,6\n2015-06-15,6\n2015-08-20,8\n2015-10-15,6\n2016-06-10,4\n2016-09-20,3\n2017-06-15,3\n2017-07-20,4\n2017-09-20,3\n2017-11-10,6\n2018-06-20,3\n2018-08-15,4\n2018-09-15,3\n2019-06-20,5\n2019-07-25,3\n2019-10-15,4\n2020-06-10,4\n2020-08-20,3\n2020-09-20,4\n2021-07-20,3\n2021-09-20,4\n2021-11-15,6", "format": {"type": "csv", "parse": {"d": "date", "p": "number"}}},
          "mark": {"type": "rule", "color": "#00b0f0", "strokeWidth": 1.1},
          "encoding": {
            "x": {"field": "d", "type": "temporal"},
            "y": {
              "field": "p", "type": "quantitative",
              "scale": {"domain": [0, 500], "reverse": true},
              "axis": {"orient": "right", "title": "Precipitation (mm/d)", "titleFont": "Liberation Serif", "values": [0, 100, 200, 300, 400, 500], "labelExpr": "datum.value <= 200 ? datum.label : ''", "labelFontSize": 24, "labelPadding": 12, "tickSize": 7, "titleFontSize": 24, "titleAngle": 270, "titleAlign": "right", "titleBaseline": "middle", "titleX": 85, "titleY": -10}
            },
            "y2": {"datum": 0}
          }
        }
      ]
    }
  ]
}
